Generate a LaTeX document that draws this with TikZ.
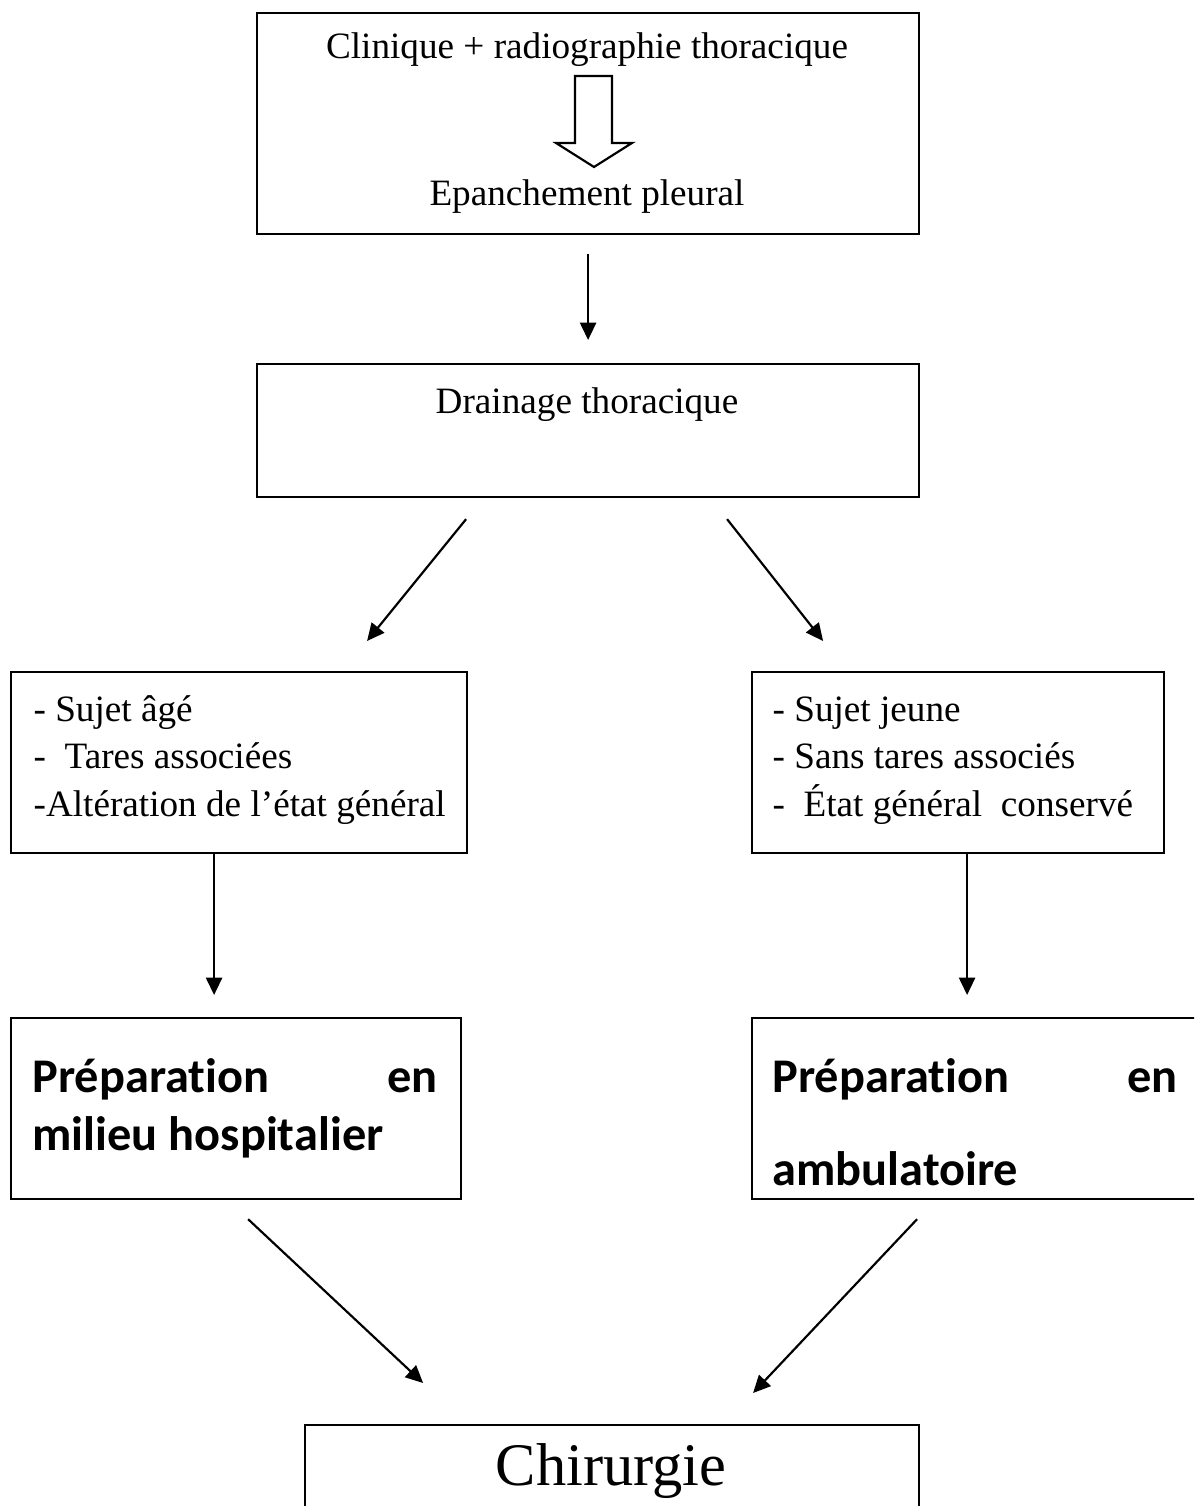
\documentclass[tikz,border=0pt]{standalone}
\usepackage{fontspec}
\setmainfont{Liberation Serif}
\newfontfamily\prepfont{Carlito}[Ligatures=NoCommon]
\usetikzlibrary{arrows.meta,positioning}
\newdimen\pxu
\pxu=0.3226pt

\begin{document}
\begin{tikzpicture}[
    x=0.3226pt, y=-0.3226pt,
    box/.style={draw, line width=0.7pt, anchor=north west, inner sep=0pt},
    txt/.style={inner sep=0pt, anchor=base, font=\fontsize{12}{14}\selectfont},
    item/.style={inner sep=0pt, anchor=base west, font=\fontsize{12}{14}\selectfont},
    prep/.style={inner sep=0pt, anchor=base west, font=\prepfont\bfseries\fontsize{15.6}{18}\selectfont},
    arr/.style={-{Triangle[length=5.6pt,width=5.2pt]}, line width=0.7pt},
    hollow/.style={draw, line width=0.7pt, line join=miter}
]
\path[use as bounding box] (0,0) rectangle (1194,1506);
\clip (0,0) rectangle (1194,1506);

% boxes
\node[box, minimum width=662*\pxu, minimum height=221*\pxu] (clin) at (256,12) {};
\node[box, minimum width=662*\pxu, minimum height=133*\pxu] (drain) at (256,363) {};
\node[box, minimum width=456*\pxu, minimum height=181*\pxu] (old) at (10,671) {};
\node[box, minimum width=412*\pxu, minimum height=181*\pxu] (young) at (751,671) {};
\node[box, minimum width=450*\pxu, minimum height=181*\pxu] (hosp) at (10,1017) {};
\node[box, minimum width=455*\pxu, minimum height=181*\pxu] (amb) at (751,1017) {};
\node[box, minimum width=614*\pxu, minimum height=140*\pxu] (chir) at (304,1424) {};

% texts
\node[txt] (clinA) at (587,59) {Clinique + radiographie thoracique};
\node[txt] (epan) at (587,206) {Epanchement pleural};
\node[txt] (drainT) at (587,414) {Drainage thoracique};

\node[item] (old1) at (33,721) {- Sujet âgé};
\node[item] (old2) at (33,768) {-\ \ Tares associées};
\node[item] (old3) at (33,816) {-Altération de l’état général};

\node[item] (young1) at (772,721) {- Sujet jeune};
\node[item] (young2) at (772,768) {- Sans tares associés};
\node[item] (young3) at (772,816) {-\ \ État général\ \ conservé};

\node[prep] (hosp1) at (32,1092) {\hbox to 405\pxu{Préparation\hfill en}};
\node[prep] (hosp2) at (32,1150) {milieu hospitalier};
\node[prep] (amb1) at (772,1092) {\hbox to 405\pxu{Préparation\hfill en}};
\node[prep] (amb2) at (772,1185) {ambulatoire};

\node[txt, font=\fontsize{19.5}{23}\selectfont] (chirT) at (611,1485) {Chirurgie};

% hollow arrow inside the first box
\coordinate (hollowtip) at (594,167);
\draw[hollow] (hollowtip) -- ++(-38,-24) -- ++(19,0) -- ++(0,-67) -- ++(37,0)
    -- ++(0,67) -- ++(20,0) -- cycle;

% connectors
\draw[arr] ([yshift=-19*\pxu]clin.south) -- ([yshift=23*\pxu]drain.north);
\draw[arr] ([xshift=-122*\pxu, yshift=-21*\pxu]drain.south) -- ([xshift=128*\pxu, yshift=30*\pxu]old.north);
\draw[arr] ([xshift=139*\pxu, yshift=-21*\pxu]drain.south) -- ([xshift=-135*\pxu, yshift=30*\pxu]young.north);
\draw[arr] ([xshift=-25*\pxu]old.south) -- ([xshift=-22*\pxu, yshift=22*\pxu]hosp.north);
\draw[arr] ([xshift=9*\pxu]young.south) -- ([xshift=-12.5*\pxu, yshift=22*\pxu]amb.north);
\draw[arr] ([xshift=12*\pxu, yshift=-19*\pxu]hosp.south) -- ([xshift=-189*\pxu, yshift=41*\pxu]chir.north);
\draw[arr] ([xshift=-62.5*\pxu, yshift=-19*\pxu]amb.south) -- ([xshift=141*\pxu, yshift=31*\pxu]chir.north);
\end{tikzpicture}
\end{document}
